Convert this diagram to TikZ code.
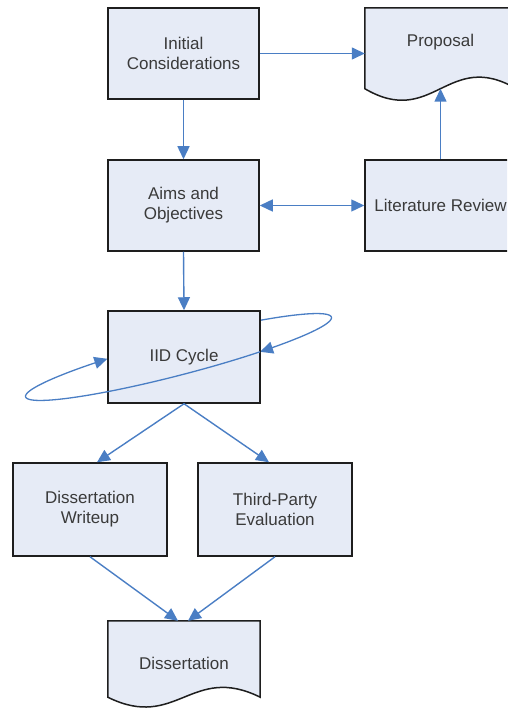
\documentclass[tikz,border=0pt]{standalone}
\usepackage{fontspec}
\setmainfont{Liberation Sans}
\usetikzlibrary{arrows.meta,calc}
\definecolor{boxfill}{RGB}{230,235,246}
\definecolor{edge}{RGB}{30,30,30}
\definecolor{flow}{RGB}{74,126,196}
\definecolor{txt}{RGB}{58,58,58}
\pgfdeclarelayer{background}
\pgfsetlayers{background,main}
\tikzset{flowtip/.tip={Triangle[length=13pt,width=12pt]}}
\begin{document}
\begin{tikzpicture}[x=1pt,y=-1pt,
  label font/.style={font=\fontsize{17}{20}\selectfont, text=txt},
  procbox/.style={draw=edge, line width=1.5pt, fill=boxfill,
    minimum width=151pt, minimum height=91pt, inner sep=0pt,
    align=center, label font},
  wideproc/.style={procbox, minimum width=154pt, minimum height=93pt},
  docarea/.style={minimum width=151pt, inner sep=0pt},
  doctext/.style={inner sep=0pt, align=center, label font},
  docline/.style={draw=edge, line width=1.5pt, fill=boxfill},
  flowline/.style={draw=flow, line width=1.4pt, -{flowtip}},
  flowboth/.style={draw=flow, line width=1.4pt, {flowtip}-{flowtip}},
  ring/.style={draw=flow, line width=1.3pt},
  ringarrow/.style={ring, -{flowtip}}]

\clip (0,0) rectangle (507,708);

% process boxes
\node[procbox] (init) at (183.5,53.5) {Initial\\Considerations};
\node[procbox] (aims) at (183.5,205.5) {Aims and\\Objectives};
\node[procbox] (lit)  at (440.5,205.5) {Literature Review};

% document shapes: outline area, wavy lower edge, caption
\node[docarea, minimum height=80.5pt] (prop) at (440.5,48.25) {};
\node[doctext] (proptext) at (440.5,42) {Proposal};
\node[docarea, minimum width=152pt, minimum height=76pt] (diss) at (184,659) {};
\node[doctext] (disstext) at (184,663) {Dissertation};

\begin{pgfonlayer}{background}
  \draw[docline] (prop.south west) -- (prop.north west) -- (prop.north east)
    -- (prop.south east)
    .. controls ($(prop.south)+(7.5,-40)$) and ($(prop.south)+(-7.5,40)$) .. (prop.south west)
    -- cycle;
  \draw[docline] (diss.south west) -- (diss.north west) -- (diss.north east)
    -- (diss.south east)
    .. controls ($(diss.south)+(7.6,-34)$) and ($(diss.south)+(-7.6,34)$) .. (diss.south west)
    -- cycle;

  % iteration ring, the part that runs behind the IID box
  \draw[ringarrow] plot[domain=-180:-116, samples=50, variable=\t]
    ({178.5+152.9*cos(\t)+4.54*sin(\t)}, {357-39.8*cos(\t)+17.42*sin(\t)});
  \draw[ring] plot[domain=-116:0, samples=50, variable=\t]
    ({178.5+152.9*cos(\t)+4.54*sin(\t)}, {357-39.8*cos(\t)+17.42*sin(\t)});
  \draw[ringarrow] plot[domain=0:59.5, samples=50, variable=\t]
    ({178.5+152.9*cos(\t)+4.54*sin(\t)}, {357-39.8*cos(\t)+17.42*sin(\t)});
\end{pgfonlayer}

\node[procbox, minimum width=152pt, minimum height=92pt] (iid) at (184,357) {IID Cycle};

% iteration ring, the part that runs in front of the IID box
\draw[ring] plot[domain=59.5:180, samples=80, variable=\t]
  ({178.5+152.9*cos(\t)+4.54*sin(\t)}, {357-39.8*cos(\t)+17.42*sin(\t)});

\node[wideproc] (dw)  at (90,509.5)  {Dissertation\\Writeup};
\node[wideproc] (tpe) at (275,509.5) {Third-Party\\Evaluation};

% connectors
\draw[flowline] (init.east) -- (init.east -| prop.west);
\draw[flowline] (init.south) -- (aims.north);
\draw[flowboth] (aims.east) -- (lit.west);
\draw[flowline] (lit.north) -- (prop.south);
\draw[flowline] (aims.south) -- (iid.north);
\draw[flowline] (iid.south) -- ([xshift=7pt]dw.north);
\draw[flowline] (iid.south) -- ([xshift=-6pt]tpe.north);
\draw[flowline] (dw.south) -- ([xshift=-6pt]diss.north);
\draw[flowline] (tpe.south) -- ([xshift=4pt]diss.north);
\end{tikzpicture}
\end{document}
